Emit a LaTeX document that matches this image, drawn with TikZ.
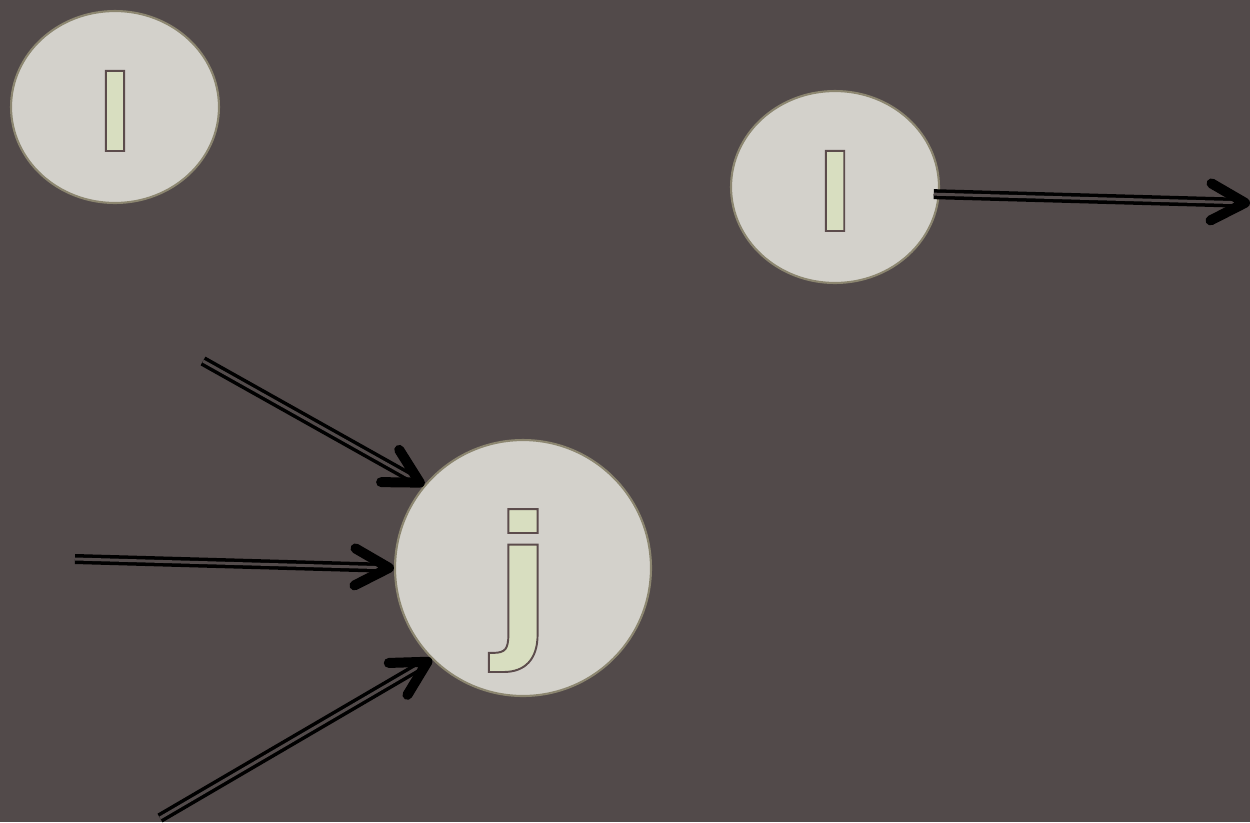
\documentclass[tikz,border=0pt]{standalone}
\usepackage{fontspec}
\setmainfont{DejaVu Sans}
\usepackage{xcolor}
\usepackage{tikz}
\usetikzlibrary{
  shapes.geometric,
  arrows.meta,
  positioning
}
\definecolor{SlateBrown}{RGB}{82, 74, 74}
\definecolor{PebbleGray}{RGB}{211, 209, 203}
\definecolor{OliveRim}{RGB}{140, 134, 112}
\definecolor{SageFill}{RGB}{216, 222, 192}
\definecolor{CocoaLine}{RGB}{92, 76, 76}
% outlined glyphs inside the state bubbles (fill + stroke text mode)
\newcommand{\glyph}[3]{\raisebox{#2}{\fontsize{#1}{#1}\selectfont\bfseries
    \special{pdf:literal direct 2 Tr 1.1 w 0.361 0.298 0.298 RG 0.847 0.871 0.753 rg}#3%
    \special{pdf:literal direct 0 Tr 0 g 0 G}}}
\tikzset{
    bubble/.style={ellipse, draw=OliveRim, line width=1.2pt, fill=PebbleGray,
        inner sep=0pt, text height=0pt, text depth=0pt},
    flow/.style={draw=black, line width=2pt, double=SlateBrown, double distance=1.7pt,
        -{Straight Barb[length=0.68cm, width=0.74cm, line width=0.2cm, round]}}
}

\begin{document}
\begin{tikzpicture}[x=0.02cm, y=-0.02cm]
            \fill[SlateBrown] (0,0) rectangle (1250,822);
            \useasboundingbox (0,0) rectangle (1250,822);

            \node[bubble, minimum width=4.16cm, minimum height=3.84cm] (lLeft) at (115,107) {\glyph{60}{-0.88cm}{l}};
            \node[bubble, minimum width=4.16cm, minimum height=3.84cm] (lRight) at (835,187) {\glyph{60}{-0.88cm}{l}};
            \node[bubble, minimum width=5.12cm, minimum height=5.12cm] (jNode) at (523,568) {\glyph{95}{-1.36cm}{j}};

            \coordinate (inTop) at (203,361);
            \coordinate (inMid) at (75,559);
            \coordinate (inLow) at (160,818);
            \coordinate (outEnd) at (1250,203);

            \draw[flow] (inTop) -- (jNode.140);
            \draw[flow] (inMid) -- (jNode.west);
            \draw[flow] (inLow) -- (jNode.225);
            \draw[flow, shorten <=-0.12cm] (lRight.-4) -- (outEnd);
        \end{tikzpicture}
\end{document}
